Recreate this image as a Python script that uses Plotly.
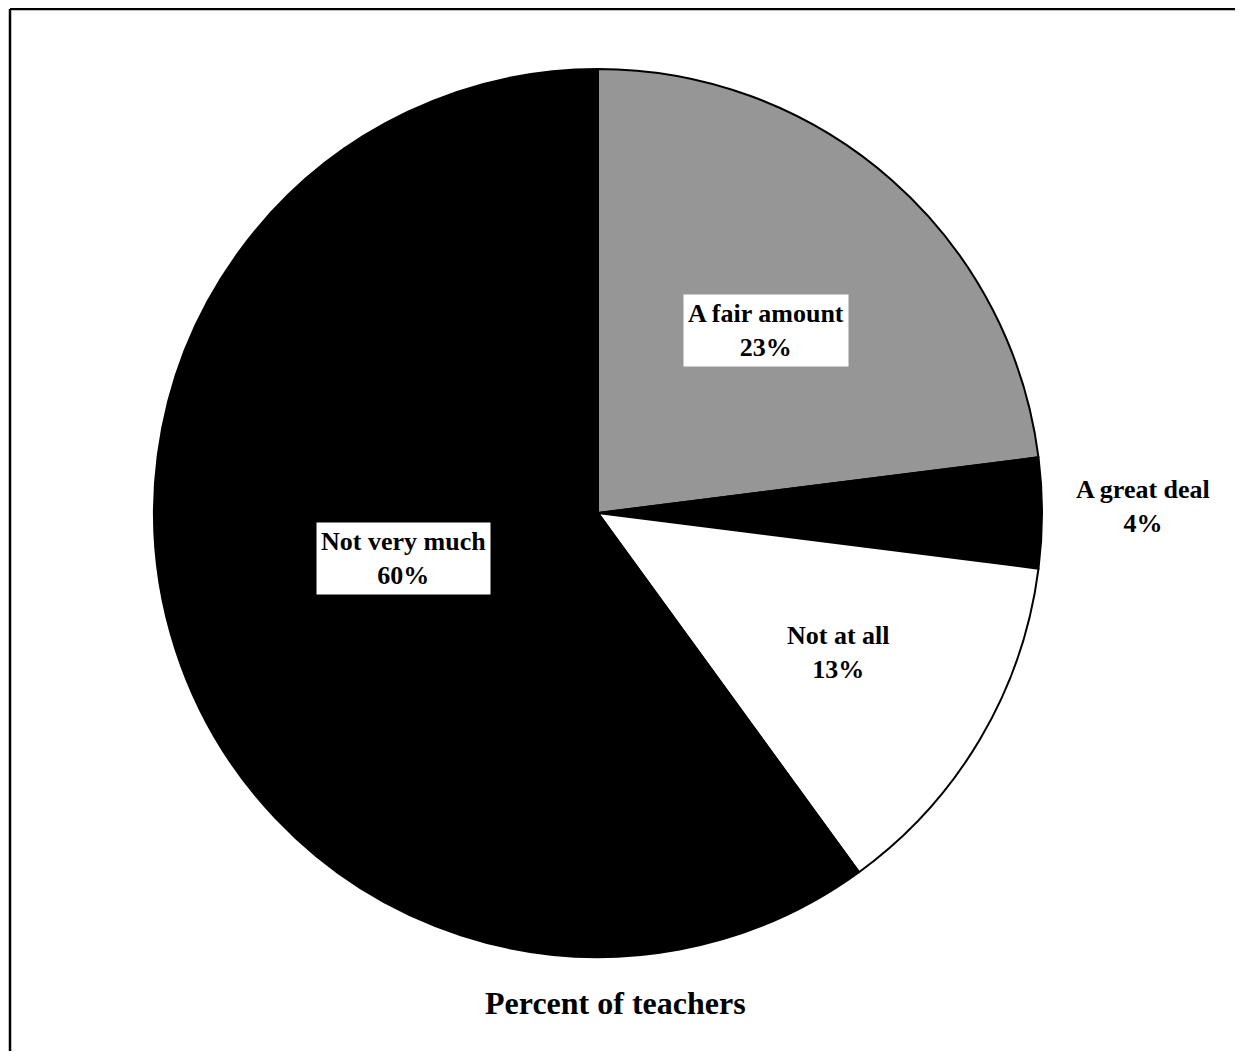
"""Pie chart: percent of teachers by response."""

import plotly.graph_objects as go

labels = ["A fair amount", "A great deal", "Not at all", "Not very much"]
values = [23, 4, 13, 60]
slice_colors = ["#969696", "#000000", "#ffffff", "#000000"]
title_text = "Percent of teachers"

# the page body has an 8px margin, so the figure is shrunk to fit the window
OFF = 8
W, H = 1243 - 2 * OFF, 1059 - 2 * OFF
FONT = dict(family="Liberation Serif, Times New Roman, serif", size=26,
            color="#000000", weight="bold")

# pie centre / radius in window pixels
cx, cy, r = 598, 513, 444


def px(x):
    return (x - OFF) / W


def py(y):
    return 1 - (y - OFF) / H


fig = go.Figure(
    go.Pie(
        labels=labels,
        values=values,
        sort=False,
        direction="clockwise",
        rotation=0,
        marker=dict(colors=slice_colors, line=dict(color="#000000", width=2)),
        textinfo="none",
        hoverinfo="label+percent",
        showlegend=False,
        domain=dict(x=[px(cx - r), px(cx + r)], y=[py(cy + r), py(cy - r)]),
    )
)

# label placement (window pixel centres) and whether a white box sits behind
label_pos = {
    "A fair amount": (766, 330, True),
    "A great deal": (1143, 506, False),
    "Not at all": (838, 652, False),
    "Not very much": (403, 558, True),
}
total = sum(values)
for lab, val in zip(labels, values):
    x, y, boxed = label_pos[lab]
    fig.add_annotation(
        x=px(x), y=py(y), xref="paper", yref="paper",
        text=f"{lab}<br>{round(100 * val / total)}%",
        showarrow=False, font=FONT,
        bgcolor="#ffffff" if boxed else "rgba(0,0,0,0)",
        borderpad=4,
        xanchor="center", yanchor="middle",
    )

fig.add_annotation(
    x=px(615), y=py(1003), xref="paper", yref="paper",
    text=title_text, showarrow=False,
    font=dict(FONT, size=32),
    xanchor="center", yanchor="middle",
)

# outer frame: only the top and left edges fall inside the picture
frame = dict(color="#000000", width=2.5)
fig.add_shape(type="line", xref="paper", yref="paper",
              x0=px(10), x1=1.0, y0=py(9), y1=py(9), line=frame)
fig.add_shape(type="line", xref="paper", yref="paper",
              x0=px(10), x1=px(10), y0=0.0, y1=py(9), line=frame)

fig.update_layout(
    width=W, height=H,
    margin=dict(l=0, r=0, t=0, b=0),
    paper_bgcolor="#ffffff",
    plot_bgcolor="#ffffff",
)

fig.write_html("out.html")
